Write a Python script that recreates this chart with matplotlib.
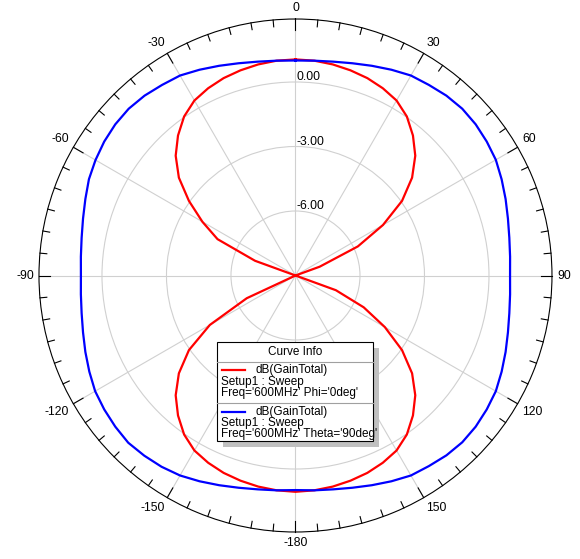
import matplotlib.pyplot as plt
import matplotlib.patches as patches
from matplotlib.lines import Line2D
import numpy as np

plt.rcParams['font.family'] = ['Liberation Sans', 'DejaVu Sans']

# sudut (derajat, searah jarum jam dari atas)
angles = list(range(0, 360, 5))

# dB(GainTotal), Phi='0deg'
red_db = [1.05, 1.03, 0.97, 0.88, 0.77, 0.61, 0.40, 0.03, -0.50, -1.12,
          -1.92, -2.95, -4.30, -5.80, -7.80, -11.0, -15.0, -22.0,
          -30.0, -22.0, -15.0, -9.5, -7.0, -5.5, -4.2, -2.95, -1.92, -1.12,
          -0.50, 0.03, 0.40, 0.61, 0.77, 0.88, 0.97, 1.03,
          1.06, 1.03, 0.97, 0.88, 0.77, 0.61, 0.40, 0.03, -0.50, -1.12,
          -1.92, -2.95, -4.40, -6.50, -10.0, -13.0, -17.0, -22.0,
          -30.0, -22.0, -15.0, -10.0, -7.0, -5.0, -4.0, -2.95, -1.92, -1.12,
          -0.50, 0.03, 0.40, 0.61, 0.77, 0.88, 0.97, 1.03]

# dB(GainTotal), Theta='90deg'
blue_db = [1.00, 1.03, 1.10, 1.22, 1.38, 1.56, 1.74, 1.82, 1.92, 1.97,
           1.94, 1.86, 1.76, 1.58, 1.40, 1.23, 1.10, 1.02,
           0.98, 1.02, 1.10, 1.23, 1.40, 1.58, 1.76, 1.86, 1.94, 1.97,
           1.92, 1.82, 1.74, 1.56, 1.38, 1.22, 1.10, 1.03,
           0.98, 1.03, 1.10, 1.22, 1.38, 1.56, 1.74, 1.86, 1.94, 2.00,
           1.94, 1.86, 1.76, 1.58, 1.40, 1.23, 1.10, 1.02,
           0.98, 1.02, 1.10, 1.23, 1.40, 1.60, 1.74, 1.86, 1.94, 1.97,
           1.92, 1.82, 1.74, 1.56, 1.38, 1.22, 1.10, 1.03]

theta_ticks = [0, 30, 60, 90, 120, 150, 180, 210, 240, 270, 300, 330]
theta_labels = ['0', '30', '60', '90', '120', '150', '-180',
                '-150', '-120', '-90', '-60', '-30']
r_ticks = [-6, -3, 0]
r_labels = ['-6.00', '-3.00', '0.00']
r_min, r_max = -9, 2.93

W, H = 580, 559
fig = plt.figure(figsize=(W / 100, H / 100), dpi=100)
ax = fig.add_axes([0.0672, 0.0483, 0.8845, 0.9177], projection='polar')
ax.set_theta_zero_location('N')
ax.set_theta_direction(-1)
ax.set_ylim(r_min, r_max)

# kurva (ditutup kembali ke titik awal)
th = np.radians(angles + [360])
ax.plot(th, np.maximum(red_db + red_db[:1], r_min), color='#ff0000', lw=1.6)
ax.plot(th, np.maximum(blue_db + blue_db[:1], r_min), color='#0000ff', lw=1.6)

# grid
ax.set_xticks(np.radians(theta_ticks))
ax.set_xticklabels([])
ax.tick_params(axis='x', which='major', length=0)
ax.set_yticks(r_ticks)
ax.set_yticklabels([])
ax.grid(True, color='#d0d0d0', lw=0.8)
ax.spines['polar'].set_color('black')
ax.spines['polar'].set_linewidth(0.8)

# tick kecil ke dalam setiap 5 derajat, panjang setiap 30 derajat
for a in range(0, 360, 5):
    L = 0.52 if a % 30 == 0 else 0.32
    ax.plot([np.radians(a)] * 2, [r_max - L, r_max], color='black', lw=0.8,
            clip_on=False, zorder=4)

# label sudut di luar lingkaran
for a, lab in zip(theta_ticks, theta_labels):
    s, c = np.sin(np.radians(a)), np.cos(np.radians(a))
    ha = 'left' if s > 0.1 else ('right' if s < -0.1 else 'center')
    va = 'bottom' if c > 0.1 else ('top' if c < -0.1 else 'center')
    ax.annotate(lab, xy=(np.radians(a), r_max), xytext=(3.6 * s, 3.6 * c),
                textcoords='offset points', ha=ha, va=va, fontsize=8.7,
                annotation_clip=False)

for r, lab in zip(r_ticks, r_labels):
    ax.annotate(lab, xy=(0, r), xytext=(0.5, -1), textcoords='offset points',
                ha='left', va='bottom', fontsize=8.7)


# legenda "Curve Info" (koordinat piksel dari kiri-atas)
def px(x, y):
    return x / W, 1 - y / H


bx0, by0, bx1, by1 = 217, 342, 373, 441
sh = 6
fig.patches.append(patches.Rectangle(px(bx0 + sh, by1 + sh), (bx1 - bx0) / W, (by1 - by0) / H,
                                     transform=fig.transFigure, facecolor='#c0c0c0',
                                     edgecolor='none', zorder=5))
fig.patches.append(patches.Rectangle(px(bx0, by1), (bx1 - bx0) / W, (by1 - by0) / H,
                                     transform=fig.transFigure, facecolor='white',
                                     edgecolor='black', lw=0.8, zorder=6))
for y in (361.5, 402.5):
    fig.lines.append(Line2D([bx0 / W, bx1 / W], [1 - y / H, 1 - y / H],
                            transform=fig.transFigure, color='#a0a0a0', lw=0.8, zorder=7))
fig.text(*px((bx0 + bx1) / 2, 352), 'Curve Info', ha='center', va='center',
         fontsize=8.5, zorder=8)

entries = [('#ff0000', 370, "Freq='600MHz' Phi='0deg'"),
           ('#0000ff', 411.5, "Freq='600MHz' Theta='90deg'")]
for color, y0, freq in entries:
    fig.lines.append(Line2D([222 / W, 245 / W], [1 - y0 / H, 1 - y0 / H],
                            transform=fig.transFigure, color=color, lw=1.6, zorder=8))
    fig.text(*px(255, y0), 'dB(GainTotal)', ha='left', va='center', fontsize=8.5, zorder=8)
    fig.text(*px(221, y0 + 11.5), 'Setup1 : Sweep', ha='left', va='center', fontsize=8.5, zorder=8)
    fig.text(*px(221, y0 + 23), freq, ha='left', va='center', fontsize=8.5, zorder=8)

fig.savefig('out.png', dpi=100)
